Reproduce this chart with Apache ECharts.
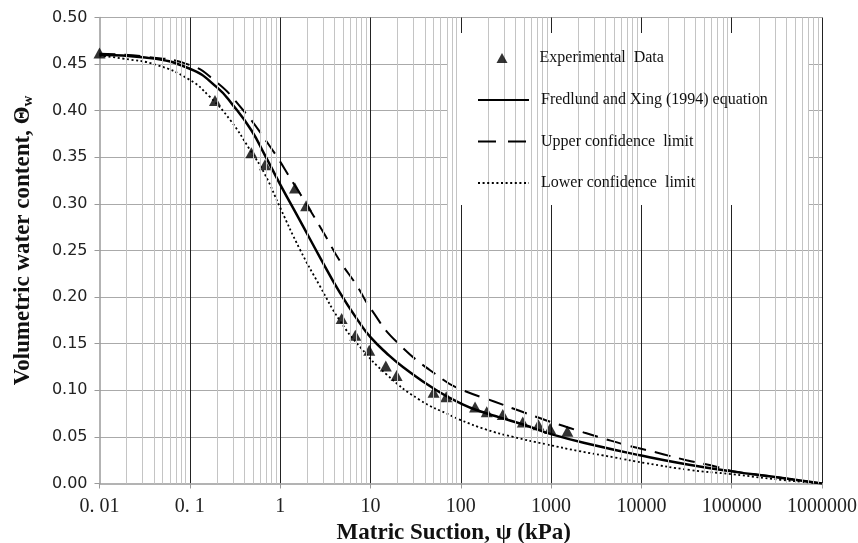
<!DOCTYPE html>
<html>
<head>
<meta charset="UTF-8">
<title>SWCC</title>
<script src="https://cdn.jsdelivr.net/npm/echarts@6/dist/echarts.min.js"></script>
<style>
  html, body { margin: 0; padding: 0; background: #fff; }
  #main { width: 858px; height: 543px; }
</style>
</head>
<body>
<div id="main"></div>
<script>
// measured points (suction in kPa, volumetric water content)
var expSuction = [0.01, 0.19, 0.48, 0.68, 1.46, 1.94, 4.8, 6.8, 9.7, 14.8, 19.5, 50, 69, 144, 194, 292, 486, 724, 975, 1515];
var expTheta   = [0.462, 0.411, 0.355, 0.342, 0.317, 0.298, 0.177, 0.159, 0.143, 0.126, 0.116, 0.098, 0.093, 0.082, 0.077, 0.074, 0.066, 0.063, 0.059, 0.056];

// Fredlund and Xing (1994) fit
var fitSuction = [0.01, 0.032, 0.1, 0.2, 0.3, 0.48, 0.68, 1.0, 1.66, 2.75, 4.57, 7.76, 10, 15, 22.9, 53.7, 105, 170, 269, 501, 1000, 3020, 10000, 30200, 100000, 302000, 1000000];
var fitTheta   = [0.460, 0.457, 0.445, 0.425, 0.406, 0.379, 0.352, 0.321, 0.282, 0.243, 0.205, 0.171, 0.157, 0.140, 0.125, 0.100, 0.085, 0.077, 0.071, 0.063, 0.053, 0.041, 0.030, 0.021, 0.013, 0.007, 0.0];

// upper confidence limit
var upSuction = [0.01, 0.032, 0.1, 0.19, 0.35, 0.78, 1.45, 1.95, 3.16, 4.57, 7.1, 10, 19.5, 64.6, 100, 234, 447, 1000, 1950, 3890, 7590, 15100, 31600, 67600, 100000, 302000, 1000000];
var upTheta   = [0.461, 0.458, 0.449, 0.432, 0.406, 0.361, 0.320, 0.300, 0.266, 0.239, 0.212, 0.188, 0.152, 0.111, 0.101, 0.088, 0.078, 0.066, 0.057, 0.048, 0.040, 0.033, 0.025, 0.018, 0.0135, 0.007, 0.0];

// lower confidence limit
var lowSuction = [0.01, 0.018, 0.043, 0.1, 0.166, 0.28, 0.457, 0.676, 1.0, 1.66, 2.75, 4.57, 7.76, 15.1, 34.7, 81.3, 100, 190, 380, 891, 1995, 5012, 10960, 34670, 100000, 346700, 1000000];
var lowTheta   = [0.459, 0.456, 0.449, 0.433, 0.415, 0.390, 0.359, 0.332, 0.296, 0.251, 0.212, 0.175, 0.146, 0.117, 0.090, 0.072, 0.068, 0.058, 0.050, 0.042, 0.035, 0.028, 0.022, 0.0145, 0.010, 0.004, 0.0];

var xTickLabels = ['0. 01', '0. 1', '1', '10', '100', '1000', '10000', '100000', '1000000'];

function pairs(xs, ys) {
    var out = [];
    for (var i = 0; i < xs.length; i++) out.push([xs[i], ys[i]]);
    return out;
}

// minor log grid lines (2..9 in every decade)
var minorLines = [];
for (var k = -2; k < 6; k++) {
    for (var d = 2; d <= 9; d++) {
        minorLines.push({ xAxis: d * Math.pow(10, k) });
    }
}

var serif = "'Liberation Serif', 'Times New Roman', serif";
var legendText = { fontFamily: serif, fontSize: 16, lineHeight: 18, color: '#111' };

var chart = echarts.init(document.getElementById('main'), null, { renderer: 'canvas' });

chart.setOption({
    animation: false,
    backgroundColor: '#fff',
    grid: { left: 99.5, right: 36, top: 17.5, bottom: 59.5, containLabel: false, outerBoundsMode: 'none' },
    graphic: [{
        type: 'rect',
        z: 5,
        silent: true,
        shape: { x: 447, y: 33, width: 361, height: 172 },
        style: { fill: '#fff' }
    }],
    legend: [
        {
            orient: 'vertical',
            left: 496.5,
            top: 49,
            z: 10,
            padding: 0,
            data: ['Experimental  Data'],
            itemWidth: 11,
            itemHeight: 10,
            textStyle: Object.assign({ padding: [0, 0, 0, 27] }, legendText)
        },
        {
            orient: 'vertical',
            left: 477,
            top: 91,
            z: 10,
            padding: 0,
            data: [
                'Fredlund and Xing (1994) equation',
                { name: 'Upper confidence  limit', lineStyle: { type: [18, 12] } },
                'Lower confidence  limit'
            ],
            itemWidth: 51,
            itemHeight: 9,
            itemGap: 23.5,
            itemStyle: { opacity: 0 },
            textStyle: Object.assign({ padding: [0, 0, 0, 7] }, legendText)
        }
    ],
    xAxis: {
        type: 'log',
        logBase: 10,
        min: 0.01,
        max: 1000000,
        splitNumber: 8,
        name: 'Matric Suction, ψ (kPa)',
        nameLocation: 'middle',
        nameGap: 35,
        nameTextStyle: { fontFamily: serif, fontWeight: 'bold', fontSize: 23, color: '#111', padding: [0, 14, 0, 0] },
        axisLine: { lineStyle: { color: '#9a9a9a', width: 1.5 } },
        axisTick: { show: true, length: 5, lineStyle: { color: '#9a9a9a' } },
        axisLabel: {
            margin: 13,
            fontFamily: serif,
            fontSize: 20,
            color: '#222',
            formatter: function (v) {
                return xTickLabels[Math.round(Math.log10(v)) + 2];
            }
        },
        splitLine: { show: true, showMinLine: false, lineStyle: { color: '#222', width: 1 } }
    },
    yAxis: {
        type: 'value',
        min: 0,
        max: 0.5,
        interval: 0.05,
        name: 'Volumetric water content, Θ{s|w}',
        nameLocation: 'middle',
        nameGap: 64,
        nameTextStyle: {
            fontFamily: serif, fontWeight: 'bold', fontSize: 23, color: '#111',
            padding: [0, 0, 0, 20],
            rich: { s: { fontFamily: serif, fontWeight: 'bold', fontSize: 15, color: '#111', padding: [9, 0, 0, 0] } }
        },
        axisLine: { show: true, lineStyle: { color: '#9a9a9a', width: 1.5 } },
        axisTick: { show: true, length: 5, lineStyle: { color: '#9a9a9a' } },
        axisLabel: {
            margin: 12,
            fontFamily: "'DejaVu Sans', sans-serif",
            fontSize: 16,
            color: '#222',
            formatter: function (v) { return v.toFixed(2); }
        },
        splitLine: { show: true, showMinLine: false, lineStyle: { color: '#aaaaaa', width: 1 } }
    },
    series: [
        {
            name: 'minor grid',
            type: 'line',
            data: [],
            silent: true,
            z: 1,
            markLine: {
                silent: true,
                symbol: ['none', 'none'],
                label: { show: false },
                lineStyle: { color: '#c4c4c4', width: 1, type: 'solid' },
                emphasis: { disabled: true },
                data: minorLines
            }
        },
        {
            name: 'Fredlund and Xing (1994) equation',
            type: 'line',
            data: pairs(fitSuction, fitTheta),
            symbol: 'none',
            smooth: 0.5,
            z: 3,
            lineStyle: { color: '#000', width: 2.5, type: 'solid' }
        },
        {
            name: 'Upper confidence  limit',
            type: 'line',
            data: pairs(upSuction, upTheta),
            symbol: 'none',
            smooth: 0.5,
            z: 3,
            lineStyle: { color: '#000', width: 2, type: [16, 9] }
        },
        {
            name: 'Lower confidence  limit',
            type: 'line',
            data: pairs(lowSuction, lowTheta),
            symbol: 'none',
            smooth: 0.5,
            z: 3,
            lineStyle: { color: '#000', width: 1.8, type: [2, 2.6] }
        },
        {
            name: 'Experimental  Data',
            type: 'scatter',
            data: pairs(expSuction, expTheta),
            symbol: 'triangle',
            symbolSize: [12, 11],
            z: 4,
            itemStyle: { color: '#000' }
        }
    ]
});
</script>
</body>
</html>
